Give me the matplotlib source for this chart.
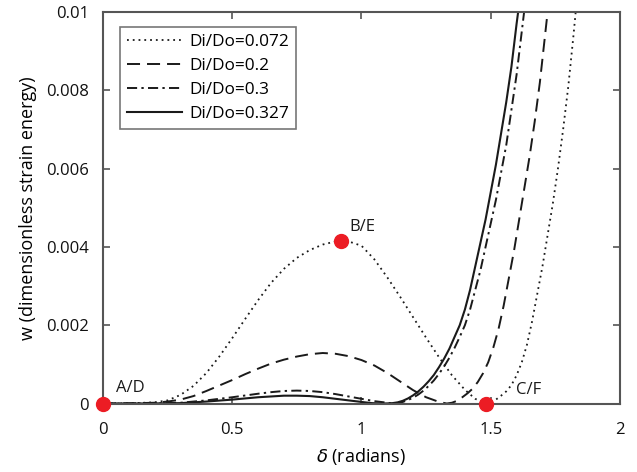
import matplotlib
matplotlib.use("Agg")
import matplotlib.pyplot as plt

# ---- data ----
x_072 = [0, 0.1, 0.2, 0.25, 0.3, 0.35, 0.4, 0.45, 0.5, 0.55, 0.6, 0.65, 0.7, 0.75, 0.8, 0.85,
         0.9, 0.95, 1.0, 1.05, 1.1, 1.15, 1.2, 1.25, 1.3, 1.35, 1.4, 1.44, 1.48,
         1.5, 1.52, 1.54, 1.56, 1.58, 1.6, 1.62, 1.64, 1.66, 1.68, 1.7, 1.72, 1.74, 1.76,
         1.78, 1.8, 1.82, 1.84]
y_072 = [0, 0.000005, 0.00003, 0.00008, 0.00022, 0.00045, 0.00078, 0.0012, 0.00167, 0.00216,
         0.00264, 0.00308, 0.00344, 0.00372, 0.00392, 0.00406, 0.00414, 0.00414, 0.00403,
         0.00368, 0.00322, 0.00272, 0.0022, 0.00168, 0.00118, 0.00072, 0.00035, 0.00012, 0.0,
         0.00003, 0.0001, 0.0002, 0.00031, 0.00047, 0.00072, 0.00105, 0.0015, 0.0021, 0.0028,
         0.0035, 0.0043, 0.0051, 0.006, 0.007, 0.0081, 0.0094, 0.0108]

x_02 = [0, 0.1, 0.2, 0.25, 0.3, 0.35, 0.4, 0.45, 0.5, 0.55, 0.6, 0.65, 0.7, 0.75, 0.8, 0.85,
        0.9, 0.95, 1.0, 1.05, 1.1, 1.15, 1.2, 1.25, 1.3, 1.33,
        1.35, 1.37, 1.39, 1.41, 1.43, 1.45, 1.47, 1.49, 1.51, 1.53, 1.55, 1.57, 1.59, 1.61,
        1.63, 1.65, 1.67, 1.69, 1.71, 1.73]
y_02 = [0, 0.000003, 0.00002, 0.00005, 0.0001, 0.00019, 0.00032, 0.00046, 0.0006, 0.00075,
        0.00089, 0.00102, 0.00112, 0.0012, 0.00126, 0.00129, 0.00127, 0.00121, 0.00111,
        0.00097, 0.00078, 0.00056, 0.00034, 0.00016, 0.00004, 0.0,
        0.00002, 0.00007, 0.00016, 0.00026, 0.00038, 0.00055, 0.00077, 0.00105, 0.00143,
        0.0019, 0.0025, 0.0032, 0.0039, 0.0047, 0.0055, 0.0063, 0.0072, 0.0082, 0.0094, 0.0106]

x_03 = [0, 0.1, 0.2, 0.3, 0.4, 0.5, 0.6, 0.65, 0.7, 0.75, 0.8, 0.85, 0.9, 0.95, 1.0, 1.05,
        1.1, 1.12, 1.14, 1.16, 1.18, 1.2, 1.22, 1.24, 1.26, 1.28, 1.3, 1.32, 1.34, 1.36, 1.38,
        1.4, 1.42, 1.44, 1.46, 1.48, 1.5, 1.52, 1.54, 1.56, 1.58, 1.6, 1.62, 1.64]
y_03 = [0, 0.0, 0.000005, 0.00002, 0.00008, 0.00016, 0.00025, 0.00029, 0.00032, 0.00033,
        0.00032, 0.00029, 0.00024, 0.00018, 0.00012, 0.00006, 0.00002, 0.0, 0.00001, 0.00004,
        0.00009, 0.00015, 0.00023, 0.00033, 0.00045, 0.00059, 0.00076, 0.00095, 0.00117,
        0.00142, 0.0017, 0.002, 0.0024, 0.0029, 0.0034, 0.004, 0.0046, 0.0052, 0.0059, 0.0066,
        0.0075, 0.0084, 0.0095, 0.0106]

x_0327 = [0, 0.1, 0.2, 0.3, 0.4, 0.5, 0.6, 0.65, 0.7, 0.75, 0.8, 0.85, 0.9, 0.95, 1.0, 1.04,
          1.08, 1.1, 1.12, 1.14, 1.16, 1.18, 1.2, 1.22, 1.24, 1.26, 1.28, 1.3, 1.32, 1.34, 1.36,
          1.38, 1.4, 1.42, 1.44, 1.46, 1.48, 1.5, 1.52, 1.54, 1.56, 1.58, 1.6, 1.62]
y_0327 = [0, 0.0, 0.000003, 0.00001, 0.00005, 0.0001, 0.00016, 0.00018, 0.0002, 0.0002,
          0.00019, 0.00016, 0.00012, 0.00008, 0.00004, 0.00001, 0.0, 0.000003, 0.00001,
          0.00003, 0.00007, 0.00013, 0.00021, 0.00031, 0.00043, 0.00057, 0.00073, 0.00093,
          0.00115, 0.0014, 0.0017, 0.002, 0.0024, 0.0029, 0.0035, 0.0041, 0.0047, 0.0054,
          0.0061, 0.0069, 0.0077, 0.0086, 0.0097, 0.0107]

labels = ["Di/Do=0.072", "Di/Do=0.2", "Di/Do=0.3", "Di/Do=0.327"]

pt_x = [0.0, 0.92, 1.48]
pt_y = [0.0, 0.00415, 0.0]
pt_labels = ["A/D", "B/E", "C/F"]

x_ticks = [0, 0.5, 1, 1.5, 2]
x_ticklabels = ["0", "0.5", "1", "1.5", "2"]
y_ticks = [0, 0.002, 0.004, 0.006, 0.008, 0.01]
y_ticklabels = ["0", "0.002", "0.004", "0.006", "0.008", "0.01"]

# ---- plot ----
plt.rcParams['font.family'] = ['Open Sans', 'DejaVu Sans']
fig = plt.figure(figsize=(6.37, 4.72), dpi=100)
ax = fig.add_axes([0.1617, 0.1451, 0.9733 - 0.1617, 0.9746 - 0.1451])

ink = '#1a1a1a'
ax.plot(x_072, y_072, color=ink, lw=1.3, linestyle=(0, (1, 2.2)), label=labels[0])
ax.plot(x_02, y_02, color=ink, lw=1.4, linestyle=(0, (6.7, 3.6)), label=labels[1])
ax.plot(x_03, y_03, color=ink, lw=1.4, linestyle=(0, (5.2, 2.2, 1.2, 2.2)), label=labels[2])
ax.plot(x_0327, y_0327, color=ink, lw=1.5, linestyle='-', label=labels[3])

ax.plot(pt_x, pt_y, 'o', color='#ec1c24', markersize=10, clip_on=False, zorder=5)

ax.text(0.05, 0.00018, pt_labels[0], fontsize=12, color=ink, va='bottom')
ax.text(0.955, 0.0043, pt_labels[1], fontsize=12, color=ink, va='bottom')
ax.text(1.598, 0.00014, pt_labels[2], fontsize=12, color=ink, va='bottom')

ax.set_xlim(0, 2)
ax.set_ylim(0, 0.01)
ax.set_xticks(x_ticks)
ax.set_xticklabels(x_ticklabels)
ax.set_yticks(y_ticks)
ax.set_yticklabels(y_ticklabels)
ax.tick_params(direction='in', length=5, width=1.2, color='#555555', top=True, right=True,
               labelsize=12, labelcolor='#111111')
ax.tick_params(axis='x', pad=13)
ax.tick_params(axis='y', pad=10)
for s in ax.spines.values():
    s.set_color('#555555')
    s.set_linewidth(1.5)

ax.set_xlabel(r"$\delta$ (radians)", fontsize=13, labelpad=6)
ax.set_ylabel("w (dimensionless strain energy)", fontsize=13, labelpad=7)

leg = ax.legend(loc='upper left', bbox_to_anchor=(0.033, 0.961), fontsize=12.4, frameon=True,
                fancybox=False, handlelength=3.2, handletextpad=0.4, borderpad=0.4,
                labelspacing=0.45, borderaxespad=0)
leg.get_frame().set_edgecolor('#555555')
leg.get_frame().set_linewidth(1.2)

fig.savefig("out.png", dpi=100)
